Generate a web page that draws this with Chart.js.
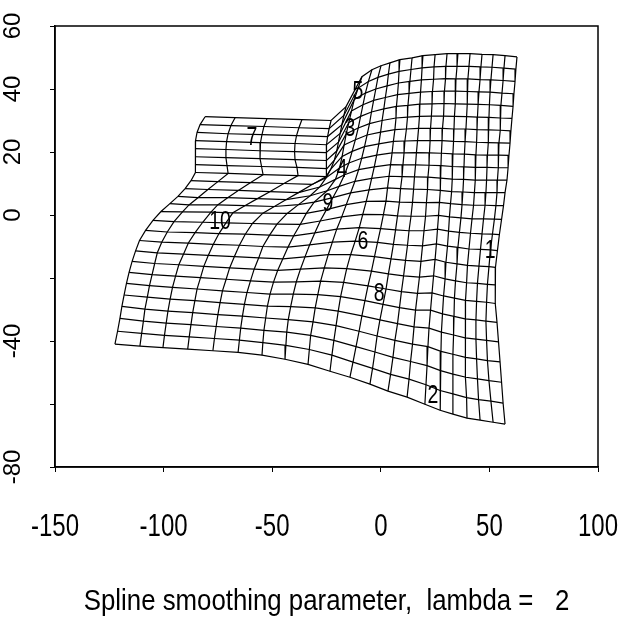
<!DOCTYPE html>
<html>
<head>
<meta charset="utf-8">
<script src="https://cdn.jsdelivr.net/npm/chart.js@4"></script>
<style>body{margin:0;background:#fff}</style>
</head>
<body>
<canvas id="grafico" width="643" height="624"></canvas>
<script>
// nos da grade deformada: uma lista por coluna (de cima para baixo), em unidades dos eixos
var gradeX = [
    [-80.9,-83.2,-84.6,-85.3,-85.5,-85.5,-85.3,-85.1,-87.4,-90.1,-93.4,-97.1,-101.2,-104.9,-108.3,-111.1,-112.9,-114.5,-115.9,-117.1,-118.2,-119.2,-120.1,-121.2,-122.4],
    [-67.1,-69.0,-70.3,-71.0,-71.3,-71.3,-70.8,-70.3,-75.0,-79.6,-84.2,-88.3,-91.3,-95.2,-98.3,-100.8,-102.9,-104.1,-105.3,-106.5,-107.5,-108.6,-109.3,-110.1,-110.9],
    [-52.4,-53.8,-54.7,-55.4,-55.6,-55.6,-54.9,-54.2,-59.9,-65.6,-70.5,-75.1,-78.2,-82.0,-85.5,-88.6,-90.8,-93.0,-94.5,-95.9,-97.0,-98.0,-98.8,-99.6,-100.3],
    [-36.3,-37.7,-38.8,-39.5,-39.7,-39.5,-38.6,-38.1,-44.6,-51.1,-56.8,-62.4,-68.1,-71.3,-74.5,-77.1,-79.4,-81.5,-83.0,-84.6,-85.6,-86.6,-87.4,-88.2,-88.9],
    [-22.9,-23.8,-24.5,-25.0,-25.2,-25.0,-24.8,-25.2,-31.6,-37.9,-43.5,-49.0,-54.3,-59.1,-62.4,-65.1,-67.4,-69.6,-71.2,-72.9,-74.0,-75.0,-75.8,-76.6,-77.3],
    [-16.0,-17.0,-17.9,-18.7,-19.5,-20.3,-21.4,-23.0,-25.2,-28.1,-32.5,-37.9,-43.1,-47.8,-51.2,-54.3,-56.2,-58.3,-60.0,-61.6,-62.8,-63.7,-64.5,-65.1,-65.7],
    [-8.7,-10.4,-12.2,-13.5,-14.7,-15.9,-16.9,-17.8,-19.0,-20.9,-24.7,-30.7,-34.3,-37.1,-40.1,-42.7,-45.1,-47.5,-49.4,-51.0,-52.2,-53.0,-53.8,-54.3,-54.7],
    [-4.1,-5.7,-7.1,-8.2,-9.3,-10.4,-11.7,-13.2,-14.7,-16.7,-19.2,-22.1,-25.0,-27.9,-30.4,-32.8,-34.9,-37.0,-38.9,-40.3,-41.5,-42.6,-43.3,-43.7,-44.1],
    [0.1,-1.3,-2.3,-3.3,-4.3,-5.2,-6.3,-7.5,-8.8,-10.2,-11.9,-13.9,-15.9,-18.0,-20.3,-22.3,-24.2,-26.0,-27.7,-29.0,-30.2,-31.2,-32.3,-32.9,-33.5],
    [4.2,3.5,2.9,2.1,1.4,0.6,-0.1,-0.9,-1.9,-3.0,-4.2,-5.4,-6.7,-8.3,-9.9,-11.8,-13.9,-15.7,-17.1,-18.5,-19.6,-20.6,-21.6,-22.5,-23.4],
    [8.8,8.4,8.1,7.7,7.2,7.0,6.5,5.8,5.2,4.5,3.8,3.1,2.4,1.2,-0.1,-1.5,-2.9,-4.3,-5.9,-7.3,-8.7,-10.0,-11.4,-12.8,-14.2],
    [14.4,13.9,13.4,13.0,12.5,12.3,11.8,11.1,10.7,10.2,9.8,9.1,8.6,7.7,6.8,5.8,4.7,3.5,2.4,1.0,-0.4,-1.7,-2.7,-3.8,-5.0],
    [19.4,19.0,18.7,18.3,18.0,17.8,17.4,16.9,16.4,16.0,15.5,15.1,14.6,13.9,13.0,12.3,11.4,10.5,9.5,8.6,7.7,6.5,5.6,4.5,3.3],
    [25.0,24.5,24.3,23.8,23.6,23.3,22.9,22.7,22.4,22.2,21.7,21.5,21.0,20.6,19.9,19.2,18.5,17.8,16.9,16.0,15.3,14.6,13.7,13.0,12.1],
    [30.5,30.0,29.8,29.3,29.1,28.9,28.4,28.2,27.9,27.7,27.5,27.3,27.0,26.6,26.1,25.6,25.0,24.3,23.6,22.9,22.2,21.7,21.3,20.8,20.3],
    [35.5,35.1,34.6,34.4,34.2,33.9,33.7,33.5,33.2,33.0,32.8,32.6,32.1,31.6,31.2,30.7,30.0,29.6,28.9,28.4,27.9,27.7,27.5,27.3,27.3],
    [41.1,40.6,40.1,39.9,39.7,39.5,39.2,38.8,38.5,38.3,38.1,37.8,37.4,36.9,36.2,35.5,35.1,34.4,33.9,33.7,33.5,33.2,33.2,33.2,33.2],
    [46.6,46.1,45.7,45.2,44.8,44.5,44.3,44.1,43.8,43.6,43.4,43.1,42.7,42.0,41.3,40.6,39.9,39.5,39.0,38.8,38.8,39.0,39.2,39.5,39.7],
    [51.7,51.2,50.7,50.3,50.0,49.8,49.6,49.4,49.1,48.9,48.7,48.4,48.0,47.3,46.6,45.9,45.2,44.5,44.1,43.8,43.8,44.1,44.5,45.0,45.7],
    [57.2,56.7,56.3,55.8,55.3,55.1,54.9,54.4,54.2,54.0,53.7,53.5,53.0,52.3,51.4,50.5,49.8,49.1,48.7,48.4,48.7,49.1,49.8,50.7,51.7],
    [62.7,62.2,61.8,61.3,60.9,60.4,59.9,59.5,59.0,58.6,58.1,57.2,56.5,55.6,54.6,53.7,52.8,52.6,52.8,53.5,54.2,54.9,55.6,56.3,57.2]
];
var gradeY = [
    [31.2,28.7,26.2,23.6,21.1,18.5,16.0,13.5,10.9,8.4,5.9,3.6,1.1,-1.7,-4.9,-8.1,-11.4,-14.7,-18.2,-21.7,-25.4,-29.0,-32.8,-36.9,-41.0],
    [30.9,28.4,25.8,23.3,20.8,18.2,15.7,13.2,10.6,8.1,5.5,3.2,1.0,-2.1,-5.4,-8.6,-12.0,-15.4,-18.9,-22.4,-26.1,-29.9,-33.7,-37.6,-41.6],
    [30.6,28.1,25.5,23.0,20.4,17.9,15.4,12.8,10.3,7.8,5.5,3.2,0.9,-2.3,-5.6,-8.9,-12.4,-15.8,-19.4,-23.0,-26.7,-30.5,-34.3,-38.2,-42.1],
    [30.3,27.7,25.2,22.7,20.1,17.6,15.1,12.5,10.0,7.4,5.2,3.0,0.7,-2.5,-5.9,-9.3,-12.8,-16.3,-19.9,-23.5,-27.2,-31.0,-34.8,-38.7,-42.6],
    [30.0,27.4,24.9,22.3,19.8,17.3,14.7,12.2,9.7,7.1,4.9,2.7,0.6,-2.7,-6.1,-9.6,-13.2,-16.8,-20.4,-24.1,-27.8,-31.6,-35.4,-39.2,-43.1],
    [34.4,31.6,28.7,25.9,23.1,20.3,17.4,14.6,11.8,8.9,6.1,3.3,0.5,-2.9,-6.4,-10.0,-13.6,-17.2,-20.9,-24.6,-28.4,-32.1,-35.9,-39.7,-43.6],
    [43.9,40.3,36.7,33.0,29.4,25.8,22.2,18.6,14.9,11.3,7.7,4.1,0.5,-3.0,-6.6,-10.2,-13.9,-17.6,-21.3,-25.1,-28.9,-32.7,-36.6,-40.5,-44.5],
    [46.1,42.4,38.7,35.0,31.3,27.6,23.9,20.2,16.5,12.8,9.1,5.5,1.7,-1.9,-5.7,-9.5,-13.3,-17.2,-21.2,-25.1,-29.1,-33.2,-37.2,-41.4,-45.8],
    [47.4,43.7,40.0,36.4,32.7,29.0,25.4,21.7,18.0,14.4,10.7,7.0,3.3,-0.6,-4.5,-8.6,-12.6,-16.8,-21.0,-25.3,-29.5,-33.9,-38.2,-42.7,-47.4],
    [48.3,44.7,41.0,37.3,33.7,30.0,26.3,22.6,19.0,15.3,11.6,8.0,4.3,0.2,-4.0,-8.3,-12.6,-17.0,-21.4,-25.9,-30.5,-35.1,-39.8,-44.5,-49.6],
    [49.3,45.6,41.9,38.2,34.5,30.8,27.1,23.4,19.7,16.0,12.3,8.6,4.4,0.1,-4.3,-8.7,-13.2,-17.8,-22.5,-27.2,-32.0,-36.9,-41.8,-46.7,-51.5],
    [49.9,46.2,42.4,38.6,34.8,31.1,27.3,23.5,19.7,15.9,12.2,8.4,4.1,-0.3,-4.7,-9.3,-13.9,-18.7,-23.5,-28.4,-33.3,-38.4,-43.5,-48.7,-53.7],
    [50.6,46.7,42.9,39.0,35.2,31.3,27.5,23.6,19.8,15.9,12.1,8.2,4.0,-0.4,-5.0,-9.6,-14.4,-19.3,-24.3,-29.4,-34.5,-39.8,-45.2,-50.6,-55.9],
    [50.9,47.0,43.1,39.2,35.3,31.4,27.5,23.6,19.7,15.8,12.0,8.1,3.9,-0.4,-5.0,-9.8,-14.7,-19.7,-24.9,-30.2,-35.5,-41.0,-46.5,-52.1,-57.8],
    [51.2,47.2,43.3,39.3,35.4,31.4,27.5,23.6,19.6,15.7,11.7,7.8,4.0,-0.1,-4.5,-9.2,-14.1,-19.3,-24.7,-30.2,-35.9,-41.8,-47.8,-53.9,-60.1],
    [51.2,47.2,43.2,39.3,35.3,31.3,27.3,23.4,19.4,15.4,11.4,7.4,3.6,-0.6,-5.1,-9.9,-15.0,-20.3,-25.7,-31.4,-37.2,-43.3,-49.4,-55.7,-62.0],
    [51.2,47.2,43.2,39.2,35.2,31.2,27.3,23.3,19.3,15.3,11.3,7.3,3.3,-0.9,-5.5,-10.3,-15.5,-20.9,-26.4,-32.2,-38.1,-44.2,-50.5,-56.8,-63.2],
    [51.0,47.0,43.0,39.1,35.1,31.1,27.1,23.1,19.1,15.1,11.1,7.1,3.1,-1.2,-5.8,-10.8,-16.0,-21.5,-27.1,-33.0,-39.0,-45.2,-51.5,-58.0,-64.5],
    [50.9,46.9,42.9,39.0,35.0,31.0,27.0,23.0,19.0,15.1,11.1,7.1,3.1,-1.2,-6.0,-10.9,-16.2,-21.7,-27.4,-33.3,-39.4,-45.7,-52.0,-58.6,-65.1],
    [50.6,46.6,42.7,38.7,34.8,30.8,26.9,22.9,19.0,15.0,11.1,7.1,3.0,-1.3,-6.1,-11.1,-16.4,-22.0,-27.7,-33.7,-39.8,-46.2,-52.6,-59.1,-65.8],
    [50.2,46.3,42.4,38.5,34.5,30.7,26.7,22.8,18.9,15.0,11.1,7.1,3.0,-1.4,-6.2,-11.3,-16.6,-22.2,-28.1,-34.1,-40.3,-46.6,-53.1,-59.7,-66.4]
];

var marcos = ['1','2','3','4','5','6','7','8','9','10'];
var marcosX = [50.3, 24.0, -14.2, -17.9, -10.5, -8.2, -59.3, -0.8, -24.3, -74.0];
var marcosY = [-11.3, -57.5, 27.4, 14.4, 39.1, -8.4, 24.6, -24.9, 3.6, -2.1];

var rotulosX = [-150, -100, -50, 0, 50, 100];
var rotulosY = [60, 40, 20, 0, -40, -80];
var titulo = 'Spline smoothing parameter,  lambda =   2';

function linha(pontos) {
    return {
        data: pontos,
        showLine: true,
        pointRadius: 0,
        borderColor: '#000',
        borderWidth: 1.2,
        tension: 0,
        fill: false
    };
}

var conjuntos = [];
var nCol = gradeX.length;
var nLin = gradeX[0].length;
// colunas
for (var c = 0; c < nCol; c++) {
    var pts = [];
    for (var r = 0; r < nLin; r++) pts.push({x: gradeX[c][r], y: gradeY[c][r]});
    conjuntos.push(linha(pts));
}
// linhas
for (var r = 0; r < nLin; r++) {
    var pts = [];
    for (var c = 0; c < nCol; c++) pts.push({x: gradeX[c][r], y: gradeY[c][r]});
    conjuntos.push(linha(pts));
}

var textos = {
    id: 'textos',
    afterDraw: function(chart) {
        var ctx = chart.ctx;
        var xs = chart.scales.x;
        var ys = chart.scales.y;
        var a = chart.chartArea;
        ctx.save();
        ctx.strokeStyle = '#000';
        ctx.lineWidth = 1.5;
        ctx.strokeRect(a.left, a.top, a.right - a.left, a.bottom - a.top);
        ctx.fillStyle = '#000';
        ctx.textAlign = 'center';
        ctx.textBaseline = 'middle';

        ctx.font = '24px "Liberation Sans", Arial, sans-serif';
        rotulosY.forEach(function(v) {
            ctx.save();
            ctx.translate(13, ys.getPixelForValue(v));
            ctx.rotate(-Math.PI / 2);
            ctx.fillText(String(v), 0, 0);
            ctx.restore();
        });

        rotulosX.forEach(function(v) {
            ctx.save();
            ctx.translate(xs.getPixelForValue(v), 527);
            ctx.scale(0.75, 1);
            ctx.font = '32px "Liberation Sans", Arial, sans-serif';
            ctx.fillText(String(v), 0, 0);
            ctx.restore();
        });

        ctx.save();
        ctx.translate((a.left + a.right) / 2, 602);
        ctx.scale(0.86, 1);
        ctx.font = '30px "Liberation Sans", Arial, sans-serif';
        ctx.fillText(titulo, 0, 0);
        ctx.restore();

        for (var i = 0; i < marcos.length; i++) {
            ctx.save();
            ctx.translate(xs.getPixelForValue(marcosX[i]), ys.getPixelForValue(marcosY[i]));
            ctx.scale(0.75, 1);
            ctx.font = '26px "Liberation Sans", Arial, sans-serif';
            ctx.fillText(marcos[i], 0, 0);
            ctx.restore();
        }
        ctx.restore();
    }
};

new Chart(document.getElementById('grafico').getContext('2d'), {
    type: 'scatter',
    data: { datasets: conjuntos },
    options: {
        responsive: false,
        animation: false,
        layout: { padding: { top: 26, right: 45, left: 0, bottom: 0 } },
        plugins: { legend: { display: false }, tooltip: { enabled: false } },
        scales: {
            x: {
                min: -150, max: 100,
                ticks: { stepSize: 50, display: false },
                grid: { drawOnChartArea: false, drawTicks: true, tickLength: 5, color: '#000', lineWidth: 1 },
                border: { display: true, color: '#000', width: 1.5 },
                afterFit: function(s) { s.height = 157; }
            },
            y: {
                min: -80, max: 60,
                ticks: { stepSize: 20, display: false },
                grid: { drawOnChartArea: false, drawTicks: true, tickLength: 5, color: '#000', lineWidth: 1 },
                border: { display: true, color: '#000', width: 1.5 },
                afterFit: function(s) { s.width = 55; }
            }
        }
    },
    plugins: [textos]
});
</script>
</body>
</html>
